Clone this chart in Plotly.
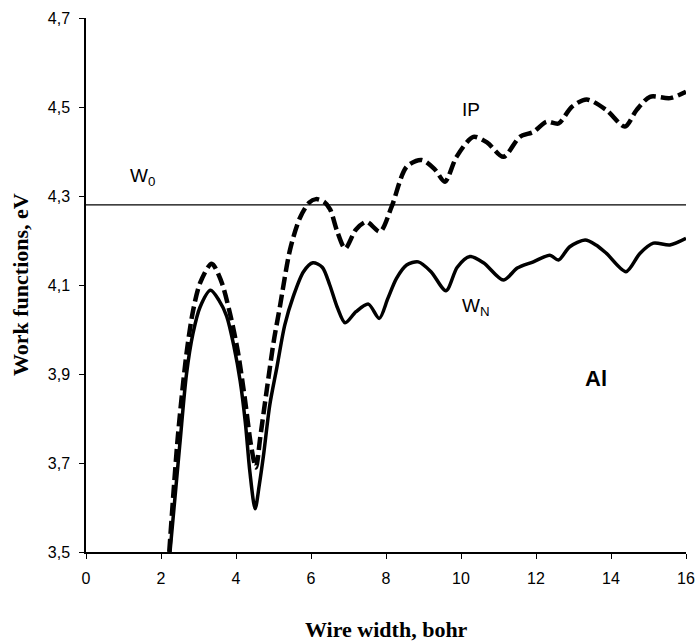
import plotly.graph_objects as go

# Solid curve W_N
x_wn = [2.24, 2.5, 2.68, 2.85, 3.04, 3.32, 3.55, 3.75, 3.95, 4.11, 4.25, 4.37, 4.51, 4.62, 4.73, 4.9,
        5.09, 5.3, 5.53, 5.8, 6.05, 6.3, 6.5, 6.7, 6.91, 7.2, 7.53, 7.82, 8.05, 8.28, 8.55, 8.86,
        9.2, 9.6, 9.9, 10.24, 10.6, 11.13, 11.5, 11.93, 12.37, 12.6, 12.9, 13.31, 13.6, 13.88,
        14.4, 14.77, 15.13, 15.57, 16.0]
y_wn = [3.50, 3.74, 3.90, 3.99, 4.05, 4.088, 4.065, 4.03, 3.96, 3.885, 3.79, 3.68, 3.597, 3.65, 3.715, 3.83,
        3.915, 4.01, 4.075, 4.13, 4.15, 4.14, 4.10, 4.05, 4.015, 4.04, 4.057, 4.025, 4.07, 4.115, 4.145, 4.152,
        4.13, 4.087, 4.14, 4.164, 4.15, 4.111, 4.138, 4.152, 4.167, 4.156, 4.186, 4.201, 4.19, 4.171,
        4.130, 4.171, 4.194, 4.190, 4.205]

# Dashed curve IP
x_ip = [2.22, 2.45, 2.68, 2.85, 3.04, 3.35, 3.6, 3.84, 4.05, 4.24, 4.4, 4.53, 4.65, 4.82, 5.0, 5.17,
        5.44, 5.7, 5.95, 6.13, 6.35, 6.51, 6.7, 6.91, 7.2, 7.48, 7.84, 8.15, 8.55, 8.95, 9.3, 9.57,
        9.88, 10.33, 10.7, 11.13, 11.57, 11.93, 12.28, 12.6, 12.95, 13.35, 13.88, 14.37, 14.68,
        15.04, 15.57, 16.0]
y_ip = [3.50, 3.76, 3.946, 4.04, 4.104, 4.148, 4.11, 4.036, 3.95, 3.842, 3.74, 3.69, 3.76, 3.864, 3.97, 4.051,
        4.179, 4.25, 4.285, 4.293, 4.287, 4.27, 4.22, 4.182, 4.225, 4.242, 4.220, 4.276, 4.366, 4.381, 4.36, 4.332,
        4.388, 4.433, 4.42, 4.388, 4.433, 4.444, 4.467, 4.463, 4.50, 4.517, 4.493, 4.456, 4.493,
        4.523, 4.52, 4.534]

# Bulk work function W0
x_w0 = [0, 16]
y_w0 = [4.28, 4.28]

x_ticks = [0, 2, 4, 6, 8, 10, 12, 14, 16]
y_ticks = [3.5, 3.7, 3.9, 4.1, 4.3, 4.5, 4.7]
y_ticktext = ["3,5", "3,7", "3,9", "4,1", "4,3", "4,5", "4,7"]

fig = go.Figure()
fig.add_trace(go.Scatter(x=x_w0, y=y_w0, mode="lines", line=dict(color="black", width=1.2),
                         showlegend=False, hoverinfo="skip"))
fig.add_trace(go.Scatter(x=x_ip, y=y_ip, mode="lines",
                         line=dict(color="black", width=4.5, dash="13px,5px", shape="spline", smoothing=0.8),
                         showlegend=False, name="IP"))
fig.add_trace(go.Scatter(x=x_wn, y=y_wn, mode="lines",
                         line=dict(color="black", width=3.5, shape="spline", smoothing=0.8),
                         showlegend=False, name="W_N"))

lab_font = dict(family="Liberation Sans, Arial", size=19, color="black")
fig.add_annotation(x=1.5, y=4.343, text="W<sub>0</sub>", showarrow=False, font=lab_font)
fig.add_annotation(x=10.27, y=4.495, text="IP", showarrow=False, font=lab_font)
fig.add_annotation(x=10.4, y=4.05, text="W<sub>N</sub>", showarrow=False, font=lab_font)
fig.add_annotation(x=13.6, y=3.89, text="<b>Al</b>", showarrow=False,
                   font=dict(family="Liberation Sans, Arial", size=22, color="black"))

title_font = dict(family="Liberation Serif, Times New Roman", size=22, color="black")
fig.add_annotation(xref="paper", yref="paper", x=0.5, y=-0.145, yanchor="middle", xanchor="center",
                   text="<b>Wire width, bohr</b>", showarrow=False, font=title_font)
fig.add_annotation(xref="paper", yref="paper", x=-0.11, y=0.5, xanchor="center", yanchor="middle",
                   text="<b>Work functions, eV</b>", textangle=-90, showarrow=False, font=title_font)

fig.update_layout(
    width=697, height=643,
    margin=dict(l=86, r=11, t=18, b=91),
    paper_bgcolor="white", plot_bgcolor="white",
    font=dict(family="Liberation Sans, Arial", size=16, color="black"),
    xaxis=dict(range=[0, 16], tickvals=x_ticks, showgrid=False, zeroline=False, automargin=False,
               showline=True, linecolor="black", linewidth=1.5, ticks="outside", ticklen=5,
               tickcolor="black", tickfont=dict(size=16), ticklabelstandoff=6),
    yaxis=dict(range=[3.5, 4.7], tickvals=y_ticks, ticktext=y_ticktext, showgrid=False, zeroline=False,
               automargin=False,
               showline=True, linecolor="black", linewidth=1.5, ticks="outside", ticklen=5,
               tickcolor="black", tickfont=dict(size=16), ticklabelstandoff=6),
)

fig.write_html("out.html")
